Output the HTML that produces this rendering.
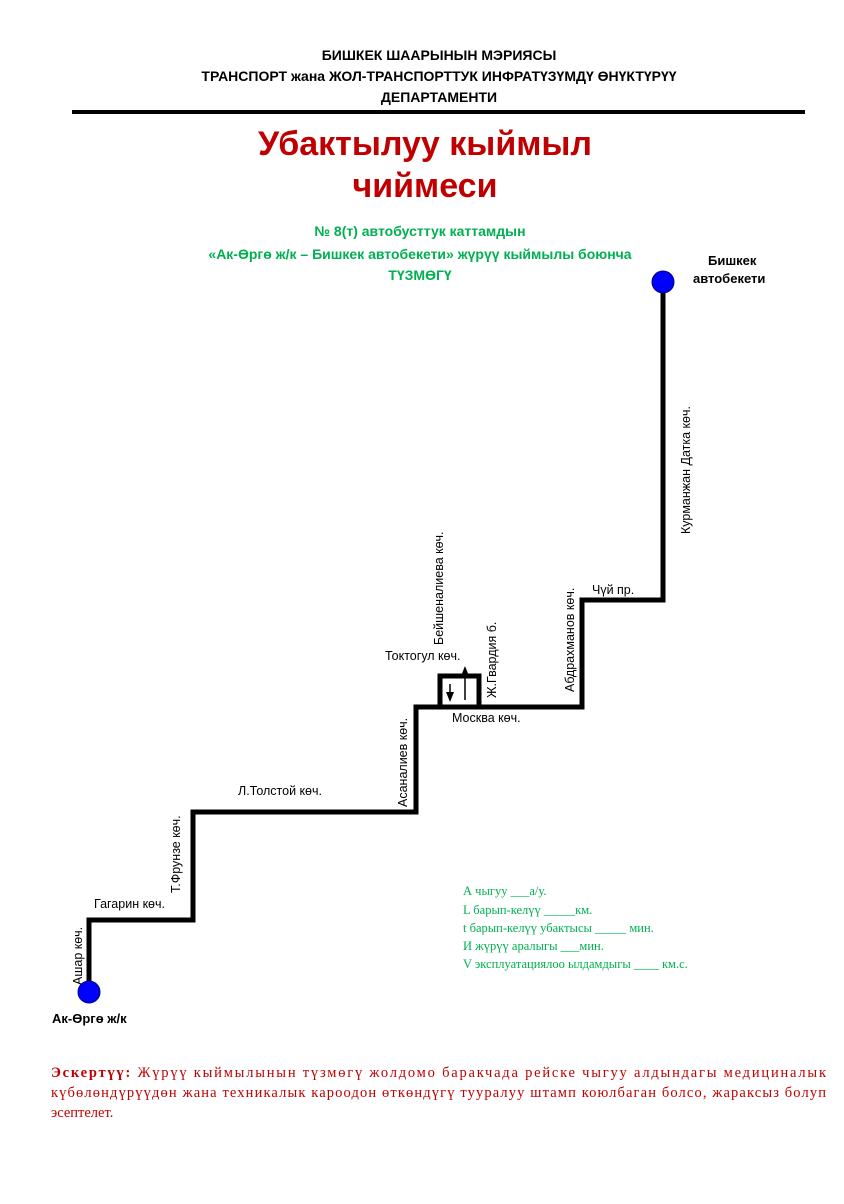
<!DOCTYPE html>
<html><head><meta charset="utf-8"><style>
html,body{margin:0;padding:0;background:#fff;}
svg{display:block}
</style></head><body>
<svg width="844" height="1204" viewBox="0 0 844 1204" xmlns="http://www.w3.org/2000/svg">
<g font-family="Liberation Sans, sans-serif" font-weight="bold" font-size="14" fill="#000" text-anchor="middle">
<text x="439" y="60">БИШКЕК ШААРЫНЫН МЭРИЯСЫ</text>
<text x="439" y="81">ТРАНСПОРТ жана ЖОЛ-ТРАНСПОРТТУК ИНФРАТҮЗҮМДҮ ӨНҮКТҮРҮҮ</text>
<text x="439" y="102">ДЕПАРТАМЕНТИ</text>
</g>
<line x1="72" y1="112" x2="805" y2="112" stroke="#000" stroke-width="4"/>
<g font-family="Liberation Sans, sans-serif" font-weight="bold" font-size="34" fill="#c00000" text-anchor="middle">
<text x="425" y="155">Убактылуу кыймыл</text>
<text x="425" y="197">чиймеси</text>
</g>
<g font-family="Liberation Sans, sans-serif" font-weight="bold" font-size="14" fill="#00b050" text-anchor="middle">
<text x="420" y="236">№ 8(т) автобусттук каттамдын</text>
<text x="420" y="259">«Ак-Өргө ж/к – Бишкек автобекети» жүрүү кыймылы боюнча</text>
<text x="420" y="280">ТҮЗМӨГҮ</text>
</g>
<g font-family="Liberation Sans, sans-serif" font-weight="bold" font-size="13" fill="#000">
<text x="708" y="265">Бишкек</text>
<text x="693" y="283">автобекети</text>
<text x="52" y="1023">Ак-Өргө ж/к</text>
</g>
<polyline points="89,985 89,920 193,920 193,812 416,812 416,707 582,707 582,600 663,600 663,285" fill="none" stroke="#000" stroke-width="5" stroke-linejoin="miter"/>
<rect x="440" y="676" width="39" height="31" fill="none" stroke="#000" stroke-width="5"/>
<line x1="450" y1="684" x2="450" y2="694" stroke="#000" stroke-width="1.5"/>
<polygon points="446,692 454,692 450,702" fill="#000"/>
<line x1="465" y1="674" x2="465" y2="700" stroke="#000" stroke-width="1.5"/>
<polygon points="461,676 469,676 465,666" fill="#000"/>
<circle cx="89" cy="992" r="11" fill="#0000ff" stroke="#000080" stroke-width="1"/>
<circle cx="663" cy="282" r="11" fill="#0000ff" stroke="#000080" stroke-width="1"/>
<g font-family="Liberation Sans, sans-serif" font-size="12.5" fill="#000">
<text x="94" y="908">Гагарин көч.</text>
<text x="238" y="795">Л.Толстой көч.</text>
<text x="385" y="660">Токтогул көч.</text>
<text x="452" y="722">Москва көч.</text>
<text x="592" y="594">Чүй пр.</text>
<text transform="translate(82,985) rotate(-90)">Ашар көч.</text>
<text transform="translate(180,893) rotate(-90)">Т.Фрунзе көч.</text>
<text transform="translate(407,807) rotate(-90)">Асаналиев көч.</text>
<text transform="translate(443,645) rotate(-90)">Бейшеналиева көч.</text>
<text transform="translate(496,698) rotate(-90)">Ж.Гвардия б.</text>
<text transform="translate(574,692) rotate(-90)">Абдрахманов көч.</text>
<text transform="translate(690,534) rotate(-90)">Курманжан Датка көч.</text>
</g>
<g font-family="Liberation Serif, serif" font-size="12.5" fill="#00b050">
<text x="463" y="895">А чыгуу ___а/у.</text>
<text x="463" y="914">L барып-келүү  _____км.</text>
<text x="463" y="932">t барып-келүү убактысы  _____ мин.</text>
<text x="463" y="950">И жүрүү аралыгы ___мин.</text>
<text x="463" y="968">V эксплуатациялоо ылдамдыгы ____ км.с.</text>
</g>
<g font-family="Liberation Serif, serif" font-size="14.5" fill="#c00000">
<text x="51" y="1077" textLength="775" lengthAdjust="spacing"><tspan font-weight="bold">Эскертүү:</tspan> Жүрүү кыймылынын түзмөгү жолдомо баракчада рейске чыгуу алдындагы медициналык</text>
<text x="51" y="1097" textLength="775" lengthAdjust="spacing">күбөлөндүрүүдөн жана техникалык кароодон өткөндүгү тууралуу штамп коюлбаган болсо, жараксыз болуп</text>
<text x="51" y="1117">эсептелет.</text>
</g>
</svg>
</body></html>
